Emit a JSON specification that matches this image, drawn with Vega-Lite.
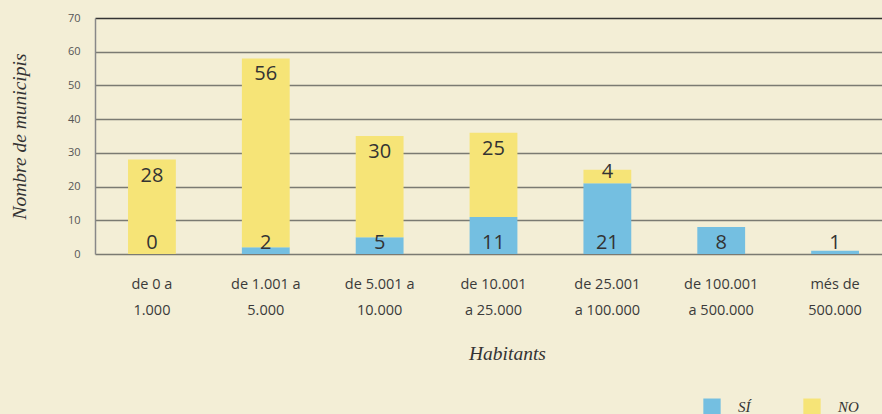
{
  "$schema": "https://vega.github.io/schema/vega-lite/v6.json",
  "autosize": {"type": "none"},
  "width": 797,
  "height": 236,
  "padding": {"left": 95, "top": 18, "right": 0, "bottom": 160},
  "background": "#f3eed6",
  "config": {
    "view": {"stroke": null},
    "font": "Open Sans",
    "axisY": {
      "title": "Nombre de municipis",
      "titleFont": "Liberation Serif",
      "titleFontStyle": "italic",
      "titleFontWeight": "normal",
      "titleFontSize": 19.5,
      "titleColor": "#333333",
      "titlePadding": 38,
      "labelFontSize": 11,
      "labelColor": "#555555",
      "labelPadding": 15,
      "labelOverlap": false,
      "ticks": false,
      "domain": true,
      "domainColor": "#888888",
      "domainWidth": 1.5,
      "grid": true,
      "gridColor": "#7a7a72",
      "gridWidth": 1.5
    }
  },
  "data": {
    "values": [
      {"cat": "de 0 a 1.000", "resposta": "SÍ", "n": 0},
      {"cat": "de 0 a 1.000", "resposta": "NO", "n": 28},
      {"cat": "de 1.001 a 5.000", "resposta": "SÍ", "n": 2},
      {"cat": "de 1.001 a 5.000", "resposta": "NO", "n": 56},
      {"cat": "de 5.001 a 10.000", "resposta": "SÍ", "n": 5},
      {"cat": "de 5.001 a 10.000", "resposta": "NO", "n": 30},
      {"cat": "de 10.001 a 25.000", "resposta": "SÍ", "n": 11},
      {"cat": "de 10.001 a 25.000", "resposta": "NO", "n": 25},
      {"cat": "de 25.001 a 100.000", "resposta": "SÍ", "n": 21},
      {"cat": "de 25.001 a 100.000", "resposta": "NO", "n": 4},
      {"cat": "de 100.001 a 500.000", "resposta": "SÍ", "n": 8},
      {"cat": "més de 500.000", "resposta": "SÍ", "n": 1}
    ]
  },
  "encoding": {
    "x": {
      "field": "cat",
      "type": "nominal",
      "sort": null,
      "scale": {"paddingInner": 0.58, "paddingOuter": 0.29},
      "axis": {
        "title": "Habitants",
        "titleFont": "Liberation Serif",
        "titleFontStyle": "italic",
        "titleFontWeight": "normal",
        "titleFontSize": 19.5,
        "titleColor": "#333333",
        "titleX": 412,
        "titleY": 99,
        "titleBaseline": "middle",
        "labelAngle": 0,
        "labelFontSize": 14.5,
        "labelColor": "#3a3a3a",
        "labelLineHeight": 26,
        "labelPadding": 30,
        "labelBaseline": "middle",
        "labelExpr": "{'de 0 a 1.000': ['de 0 a', '1.000'], 'de 1.001 a 5.000': ['de 1.001 a', '5.000'], 'de 5.001 a 10.000': ['de 5.001 a', '10.000'], 'de 10.001 a 25.000': ['de 10.001', 'a 25.000'], 'de 25.001 a 100.000': ['de 25.001', 'a 100.000'], 'de 100.001 a 500.000': ['de 100.001', 'a 500.000'], 'més de 500.000': ['més de', '500.000']}[datum.value]",
        "ticks": false,
        "domain": false
      }
    }
  },
  "layer": [
    {
      "mark": {"type": "bar"},
      "encoding": {
        "y": {
          "field": "n",
          "type": "quantitative",
          "stack": "zero",
          "scale": {"domain": [0, 70], "nice": false},
          "axis": {
            "title": "Nombre de municipis",
            "values": [0, 10, 20, 30, 40, 50, 60, 70],
            "gridColor": {"condition": {"test": "datum.value === 70", "value": "#333333"}, "value": "#7a7a72"}
          }
        },
        "color": {
          "field": "resposta",
          "type": "nominal",
          "scale": {"domain": ["SÍ", "NO"], "range": ["#74bfe1", "#f6e477"]},
          "legend": {
            "title": null,
            "orient": "none",
            "legendX": 608,
            "legendY": 380,
            "direction": "horizontal",
            "symbolType": "square",
            "symbolSize": 300,
            "symbolStrokeWidth": 0,
            "labelFont": "Liberation Serif",
            "labelFontStyle": "italic",
            "labelFontSize": 15,
            "labelColor": "#333333",
            "labelOffset": 17,
            "columnPadding": 52,
            "padding": 0
          }
        },
        "order": {"field": "resposta", "sort": "descending"}
      }
    },
    {
      "transform": [{"filter": "datum.resposta === 'SÍ'"}],
      "mark": {"type": "text", "fontSize": 20, "color": "#333333", "baseline": "middle", "dy": -11},
      "encoding": {
        "y": {
          "datum": 0,
          "type": "quantitative",
          "axis": {
            "title": "Nombre de municipis",
            "values": [0, 10, 20, 30, 40, 50, 60, 70],
            "gridColor": {"condition": {"test": "datum.value === 70", "value": "#333333"}, "value": "#7a7a72"}
          }
        },
        "text": {"field": "n", "type": "quantitative"}
      }
    },
    {
      "transform": [
        {"joinaggregate": [{"op": "sum", "field": "n", "as": "total"}], "groupby": ["cat"]},
        {"filter": "datum.resposta === 'NO' && datum.n >= 8"}
      ],
      "mark": {"type": "text", "fontSize": 20, "color": "#333333", "baseline": "middle", "dy": 16},
      "encoding": {
        "y": {
          "field": "total",
          "type": "quantitative",
          "axis": {
            "title": "Nombre de municipis",
            "values": [0, 10, 20, 30, 40, 50, 60, 70],
            "gridColor": {"condition": {"test": "datum.value === 70", "value": "#333333"}, "value": "#7a7a72"}
          }
        },
        "text": {"field": "n", "type": "quantitative"}
      }
    },
    {
      "transform": [
        {"joinaggregate": [{"op": "sum", "field": "n", "as": "total"}], "groupby": ["cat"]},
        {"filter": "datum.resposta === 'NO' && datum.n < 8"}
      ],
      "mark": {"type": "text", "fontSize": 20, "color": "#333333", "baseline": "middle", "dy": 2},
      "encoding": {
        "y": {
          "field": "total",
          "type": "quantitative",
          "axis": {
            "title": "Nombre de municipis",
            "values": [0, 10, 20, 30, 40, 50, 60, 70],
            "gridColor": {"condition": {"test": "datum.value === 70", "value": "#333333"}, "value": "#7a7a72"}
          }
        },
        "text": {"field": "n", "type": "quantitative"}
      }
    }
  ]
}
